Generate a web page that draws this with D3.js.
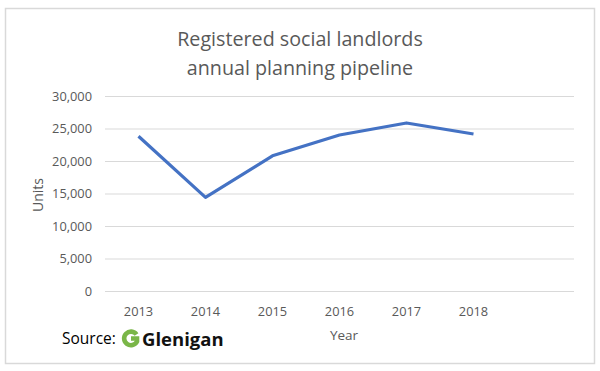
<!DOCTYPE html>
<html><head><meta charset="utf-8">
<script src="https://cdn.jsdelivr.net/npm/d3@7"></script>
<style>body{margin:0;background:#fff}svg{display:block}text{font-family:"Open Sans","Noto Sans",sans-serif}</style>
</head><body>
<svg id="c" width="600" height="371"></svg>
<script>
const years = ["2013","2014","2015","2016","2017","2018",""];
const units = [23800,14400,20800,24000,25850,24150];
const yTicks = [0,5000,10000,15000,20000,25000,30000];
const titleLines = ["Registered social landlords","annual planning pipeline"];

const svg = d3.select("#c");
svg.append("rect").attr("x",5.5).attr("y",8.5).attr("width",589).attr("height",355)
  .attr("fill","#fff").attr("stroke","#d9d9d9").attr("stroke-width",1.5);

const x = d3.scaleBand().domain(years).range([105,574]);
const y = d3.scaleLinear().domain([0,30000]).range([291,96]);

titleLines.forEach((t,i)=>svg.append("text").attr("x",300).attr("y",46+i*29)
  .attr("text-anchor","middle").attr("font-size",19.7).attr("fill","#595959").attr("font-weight",400).text(t));

const gy = svg.append("g").attr("transform","translate(105,0)")
  .call(d3.axisLeft(y).tickValues(yTicks).tickSize(-469).tickPadding(13).tickFormat(d3.format(",")));
gy.select(".domain").remove();
gy.selectAll(".tick line").attr("stroke","#d9d9d9").attr("stroke-width",1);
gy.selectAll(".tick text").attr("font-size",12.8).attr("fill","#595959").style("font-family","'Open Sans',sans-serif");

const gx = svg.append("g").attr("transform","translate(0,291)")
  .call(d3.axisBottom(x).tickSize(0).tickPadding(16));
gx.select(".domain").remove();
gx.selectAll(".tick text").attr("font-size",12.8).attr("fill","#595959").style("font-family","'Open Sans',sans-serif");

svg.append("text").attr("transform","translate(43,195) rotate(-90)").attr("text-anchor","middle")
  .attr("font-size",14).attr("fill","#595959").text("Units");
svg.append("text").attr("x",344).attr("y",340).attr("text-anchor","middle")
  .attr("font-size",13.5).attr("fill","#595959").text("Year");

const line = d3.line().x((d,i)=>x(years[i])+x.bandwidth()/2).y(d=>y(d));
svg.append("path").datum(units).attr("d",line).attr("fill","none")
  .attr("stroke","#4472c4").attr("stroke-width",3.2).attr("stroke-linejoin","round");

svg.append("text").attr("x",62).attr("y",344).attr("font-size",15.5).attr("fill","#000").text("Source:");
// Glenigan logo
const lg = svg.append("g").attr("transform","translate(123,331)");
lg.append("path").attr("d","M13.5,3.5 A6.8,6.8 0 1 0 14,10.5 L14,7.5 L8,7.5")
  .attr("fill","none").attr("stroke","#7ab648").attr("stroke-width",4.6);
svg.append("text").attr("x",142).attr("y",346).attr("font-size",18.5).attr("font-weight",700)
  .attr("fill","#111").style("font-family","'Open Sans',sans-serif").text("Glenigan");
</script>
</body></html>
